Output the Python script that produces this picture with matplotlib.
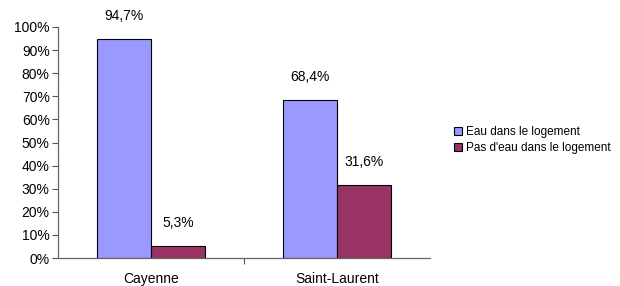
import matplotlib.pyplot as plt
import numpy as np

plt.rcParams['font.family'] = ['Liberation Sans', 'DejaVu Sans']

categories = ['Cayenne', 'Saint-Laurent']
series = ['Eau dans le logement', "Pas d'eau dans le logement"]
eau = [94.7, 68.4]
pas_eau = [5.3, 31.6]
value_labels = [['94,7%', '68,4%'], ['5,3%', '31,6%']]
colors = ['#9999FF', '#993366']

fig = plt.figure(figsize=(6.2, 2.86), dpi=100)
ax = fig.add_axes([58 / 620, (286 - 258) / 286, (430 - 58) / 620, (258 - 27) / 286])

x = np.arange(len(categories))
w = 0.29
for i, (vals, c, name) in enumerate(zip([eau, pas_eau], colors, series)):
    pos = x + (i - 0.5) * w
    ax.bar(pos, vals, width=w, color=c, edgecolor='black', linewidth=0.8, label=name, zorder=2)
    for p, v, lab in zip(pos, vals, value_labels[i]):
        ax.text(p, v + 7, lab, ha='center', va='bottom', fontsize=10)

ax.set_xlim(-0.5, 1.5)
ax.set_ylim(0, 100)
ax.set_yticks(range(0, 101, 10))
ax.set_yticklabels([f'{t}%' for t in range(0, 101, 10)], fontsize=10)
ax.set_xticks([0.5])
ax.set_xticklabels([''])
for xi, cat in zip(x, categories):
    ax.text(xi, -0.06, cat, transform=ax.get_xaxis_transform(), ha='center', va='top', fontsize=10)
ax.tick_params(axis='y', direction='out', length=4, width=0.8, pad=2, colors='#555555', labelcolor='black')
ax.tick_params(axis='x', direction='out', length=4, width=0.8, colors='#555555')
for s in ['top', 'right']:
    ax.spines[s].set_visible(False)
for s in ['left', 'bottom']:
    ax.spines[s].set_color('#666666')
    ax.spines[s].set_linewidth(0.9)

leg = fig.legend(loc='upper left', bbox_to_anchor=(448 / 620, 1 - 120 / 286), frameon=False,
                 fontsize=8.5, handlelength=0.7, handleheight=0.7, handletextpad=0.3,
                 labelspacing=0.35, borderpad=0)

fig.savefig('out.png', dpi=100)
